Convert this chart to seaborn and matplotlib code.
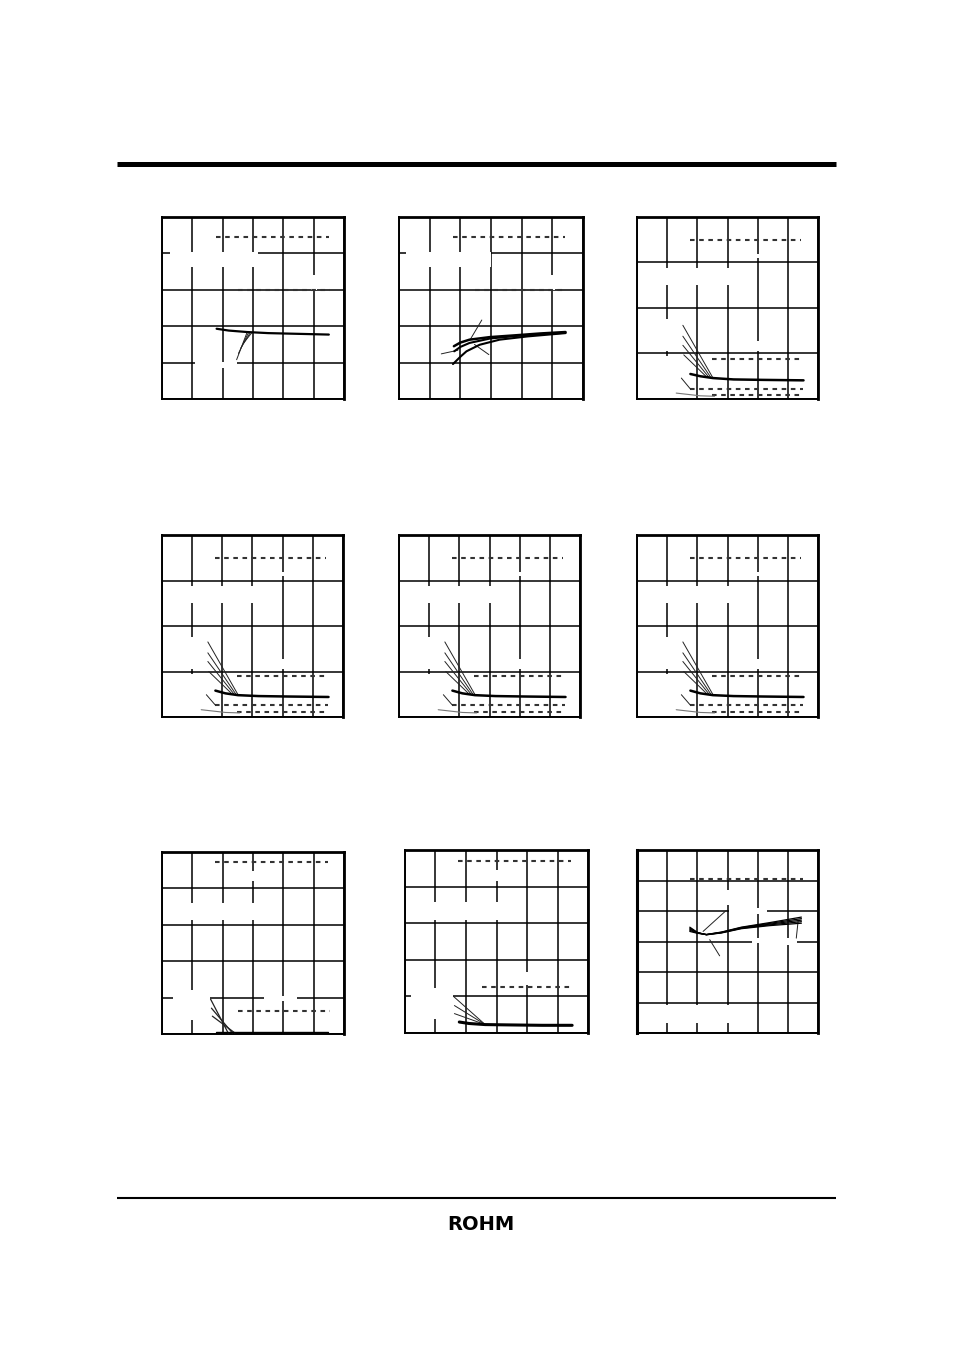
import matplotlib
matplotlib.use("Agg")
import matplotlib.pyplot as plt
import seaborn as sns
import pandas as pd
from matplotlib.patches import Rectangle

sns.set_theme(style="white")
plt.rcParams['font.family'] = ['DejaVu Sans']

W, H = 954, 1351

# ---------------- data (grid units) ----------------
# Panel 1
p1_dash1_x = [1.77, 5.5];  p1_dash1_y = [4.46, 4.46]
p1_dash2_x = [2.52, 5.55]; p1_dash2_y = [3.0, 3.0]
p1_curve_x = [1.8, 2.2, 2.8, 3.5, 4.5, 5.5]
p1_curve_y = [1.93, 1.88, 1.84, 1.81, 1.79, 1.77]
p1_lead_x0 = [2.95, 2.90, 2.85, 2.80]
p1_lead_y0 = [1.81, 1.81, 1.82, 1.82]
p1_lead_x1 = [2.70, 2.60, 2.52, 2.46]
p1_lead_y1 = [1.55, 1.40, 1.25, 1.08]

# Panel 2
p2_dash1_x = [1.76, 5.4];  p2_dash1_y = [4.46, 4.46]
p2_dash2_x = [2.49, 5.46]; p2_dash2_y = [2.99, 2.99]
p2_a_x = [1.79, 2.0, 2.3, 2.96, 3.8, 4.6, 5.43]
p2_a_y = [1.45, 1.55, 1.63, 1.70, 1.75, 1.80, 1.84]
p2_b_x = [1.80, 2.0, 2.3, 2.96, 3.8, 4.6, 5.43]
p2_b_y = [1.31, 1.43, 1.54, 1.66, 1.73, 1.78, 1.82]
p2_c_x = [1.76, 2.0, 2.2, 2.63, 3.28, 4.2, 5.43]
p2_c_y = [0.96, 1.16, 1.31, 1.49, 1.63, 1.72, 1.81]
p2_lead_x0 = [2.70, 1.38, 2.93]
p2_lead_y0 = [2.17, 1.24, 1.22]
p2_lead_x1 = [2.32, 1.92, 2.46]
p2_lead_y1 = [1.63, 1.34, 1.50]

# Panel 3 and row 2 panels (same family of curves)
p3_dash_x = [[1.77, 5.45], [2.49, 5.5], [1.75, 5.5], [2.49, 5.5]]
p3_dash_y = [[3.49, 3.49], [0.87, 0.87], [0.22, 0.22], [0.08, 0.08]]
p3_curve_x = [1.77, 2.1, 2.52, 3.2, 4.2, 5.52]
p3_curve_y = [0.55, 0.50, 0.46, 0.43, 0.42, 0.41]
p3_lead_x0 = [1.52, 1.52, 1.52, 1.55]
p3_lead_y0 = [1.62, 1.38, 1.18, 0.97]
p3_lead_x1 = [2.52, 2.45, 2.38, 2.30]
p3_lead_y1 = [0.46, 0.47, 0.48, 0.49]
p3_tick_x = [1.47, 1.77]; p3_tick_y = [0.46, 0.22]
p3_thin_x = [1.30, 1.7, 2.1, 2.57]
p3_thin_y = [0.13, 0.10, 0.07, 0.06]

p4_dash_y = [[3.50, 3.50], [0.90, 0.90], [0.26, 0.26], [0.12, 0.12]]
p4_curve_y = [0.58, 0.52, 0.48, 0.46, 0.45, 0.44]
p4_lead_y0 = [1.65, 1.41, 1.22, 1.00]

# Panel 7
p7_dash_x = [[1.76, 5.47], [2.5, 5.53]]
p7_dash_y = [[4.72, 4.72], [0.64, 0.64]]
p7_line_x = [1.77, 5.47]; p7_line_y = [0.05, 0.05]
p7_lead_x0 = [1.60, 1.63, 1.66]
p7_lead_y0 = [0.96, 0.71, 0.49]
p7_lead_x1 = [2.18, 2.32, 2.40]
p7_lead_y1 = [0.03, 0.03, 0.03]

# Panel 8
p8_dash_x = [[1.75, 5.45], [2.52, 5.48]]
p8_dash_y = [[4.70, 4.70], [1.25, 1.25]]
p8_curve_x = [1.78, 2.1, 2.63, 3.5, 4.5, 5.48]
p8_curve_y = [0.30, 0.26, 0.23, 0.22, 0.21, 0.21]
p8_lead_x0 = [1.59, 1.62, 1.62]
p8_lead_y0 = [1.00, 0.75, 0.53]
p8_lead_x1 = [2.63, 2.63, 2.63]
p8_lead_y1 = [0.23, 0.23, 0.23]

# Panel 9
p9_dash_x = [1.77, 5.5]; p9_dash_y = [5.04, 5.04]
p9_curve_x = [1.75, 2.0, 2.3, 2.8, 3.46, 4.4, 5.45]
p9_curve_y0 = [3.47, 3.30, 3.22, 3.28, 3.42, 3.52, 3.60]
p9_curve_y1 = [3.33, 3.27, 3.23, 3.31, 3.47, 3.62, 3.80]
p9_lead_x0 = [2.96, 2.74, 5.28]
p9_lead_y0 = [4.02, 2.53, 3.11]
p9_lead_x1 = [2.19, 2.41, 5.34]
p9_lead_y1 = [3.33, 3.06, 3.66]

# white label blanks (grid units): x0, y0, x1, y1
p1_blank = [(0.25, 3.64, 3.18, 4.03), (1.08, 0.85, 2.46, 1.03), (4.9, 3.0, 5.1, 3.42)]
p2_blank = [(0.22, 3.64, 3.0, 4.03), (4.9, 3.0, 5.1, 3.42)]
p3_blank = [(0.8, 2.5, 3.2, 2.87), (0.7, 1.05, 1.4, 1.76), (0.8, 0.02, 1.2, 0.95),
            (3.8, 1.05, 4.2, 1.27), (3.8, 3.1, 4.2, 3.18)]
p7_blank = [(0.36, 0.9, 1.58, 1.05), (3.35, 0.9, 4.46, 1.05), (0.8, 3.14, 3.2, 3.6),
            (0.8, 0.39, 1.2, 1.22), (2.8, 4.19, 3.2, 4.47)]
p8_blank = [(0.8, 3.09, 3.2, 3.59), (0.2, 0.9, 1.58, 1.05), (0.8, 0.38, 1.2, 1.23),
            (3.8, 1.32, 4.2, 1.68), (2.8, 4.14, 3.2, 4.45)]
p9_blank = [(0.8, 0.33, 3.2, 0.93), (3.8, 2.95, 4.2, 3.1), (4.05, 2.9, 5.3, 3.1),
            (3.05, 3.9, 4.3, 4.1), (2.9, 4.2, 3.1, 4.7)]

# ---------------- drawing ----------------
fig = plt.figure(figsize=(W / 100, H / 100), dpi=100)


def add_panel(left, top, width, height, ncols, nrows):
    ax = fig.add_axes([left / W, 1 - (top + height) / H, width / W, height / H])
    ax.set_xlim(0, ncols)
    ax.set_ylim(0, nrows)
    ax.set_xticks(range(ncols + 1))
    ax.set_yticks(range(nrows + 1))
    ax.set_xticklabels([])
    ax.set_yticklabels([])
    ax.tick_params(length=0)
    ax.grid(True, color="black", linewidth=1.1, zorder=1)
    ax.set_axisbelow(True)
    for s in ax.spines.values():
        s.set_visible(True)
        s.set_color("black")
        s.set_linewidth(1.4)
    ax.spines["top"].set_linewidth(2.0)
    ax.spines["right"].set_linewidth(2.0)
    ax.set_xlabel("")
    ax.set_ylabel("")
    return ax


def blanks(ax, rects):
    for x0, y0, x1, y1 in rects:
        ax.add_patch(Rectangle((x0, y0), x1 - x0, y1 - y0, facecolor="white",
                               edgecolor="none", zorder=2))


def line(ax, xs, ys, lw=1.8, color="black", ls="-", z=4):
    df = pd.DataFrame({"x": xs, "y": ys})
    sns.lineplot(data=df, x="x", y="y", ax=ax, color=color, linewidth=lw,
                 linestyle=ls, sort=False, estimator=None, zorder=z)
    ax.set_xlabel("")
    ax.set_ylabel("")


DASH = (0, (2.2, 2.2))


def dashed(ax, xs, ys):
    line(ax, xs, ys, lw=1.5, color="#333333", ls=DASH, z=3)


def leaders(ax, x0, y0, x1, y1, lw=0.7):
    for a, b, c, d in zip(x0, y0, x1, y1):
        line(ax, [a, c], [b, d], lw=lw, color="#222222", z=3)


# Panel 1
ax = add_panel(162, 217, 182, 182, 6, 5)
blanks(ax, p1_blank)
dashed(ax, p1_dash1_x, p1_dash1_y)
dashed(ax, p1_dash2_x, p1_dash2_y)
leaders(ax, p1_lead_x0, p1_lead_y0, p1_lead_x1, p1_lead_y1)
line(ax, p1_curve_x, p1_curve_y, lw=1.6)

# Panel 2
ax = add_panel(399, 217, 184, 182, 6, 5)
blanks(ax, p2_blank)
dashed(ax, p2_dash1_x, p2_dash1_y)
dashed(ax, p2_dash2_x, p2_dash2_y)
leaders(ax, p2_lead_x0, p2_lead_y0, p2_lead_x1, p2_lead_y1)
line(ax, p2_a_x, p2_a_y, lw=1.8)
line(ax, p2_b_x, p2_b_y, lw=1.5)
line(ax, p2_c_x, p2_c_y, lw=1.5)


def family_panel(left, top, dash_y, curve_y, lead_y0, dy):
    ax = add_panel(left, top, 181, 182, 6, 4)
    blanks(ax, p3_blank)
    for xs, ys in zip(p3_dash_x, dash_y):
        dashed(ax, xs, ys)
    lead_y1 = [v + dy for v in p3_lead_y1]
    leaders(ax, p3_lead_x0, lead_y0, p3_lead_x1, lead_y1)
    tick_y = [p3_tick_y[0] + dy, dash_y[2][0]]
    line(ax, p3_tick_x, tick_y, lw=0.7, color="#222222")
    line(ax, p3_thin_x, [v + dy for v in p3_thin_y], lw=0.8, color="#777777")
    line(ax, p3_curve_x, curve_y, lw=1.8)
    return ax


family_panel(637, 217, p3_dash_y, p3_curve_y, p3_lead_y0, 0.0)
family_panel(162, 535, p4_dash_y, p4_curve_y, p4_lead_y0, 0.03)
family_panel(399, 535, p4_dash_y, p4_curve_y, p4_lead_y0, 0.03)
family_panel(637, 535, p4_dash_y, p4_curve_y, p4_lead_y0, 0.03)

# Panel 7
ax = add_panel(162, 852, 182, 182, 6, 5)
blanks(ax, p7_blank)
for xs, ys in zip(p7_dash_x, p7_dash_y):
    dashed(ax, xs, ys)
leaders(ax, p7_lead_x0, p7_lead_y0, p7_lead_x1, p7_lead_y1, lw=0.9)
line(ax, p7_line_x, p7_line_y, lw=1.0)

# Panel 8
ax = add_panel(405, 850, 183, 183, 6, 5)
blanks(ax, p8_blank)
for xs, ys in zip(p8_dash_x, p8_dash_y):
    dashed(ax, xs, ys)
leaders(ax, p8_lead_x0, p8_lead_y0, p8_lead_x1, p8_lead_y1)
line(ax, p8_curve_x, p8_curve_y, lw=2.2)

# Panel 9
ax = add_panel(637, 850, 181, 183, 6, 6)
ax.spines["left"].set_linewidth(2.2)
blanks(ax, p9_blank)
dashed(ax, p9_dash_x, p9_dash_y)
leaders(ax, p9_lead_x0, p9_lead_y0, p9_lead_x1, p9_lead_y1)
n = 5
for i in range(n):
    ys = [a + (b - a) * i / (n - 1) for a, b in zip(p9_curve_y0, p9_curve_y1)]
    line(ax, p9_curve_x, ys, lw=0.9)

# Header / footer rules and logo
fig.add_artist(plt.Line2D([117 / W, 836 / W], [1 - 164 / H, 1 - 164 / H],
                          color="black", linewidth=3.6, solid_capstyle="butt"))
fig.add_artist(plt.Line2D([117 / W, 836 / W], [1 - 1198 / H, 1 - 1198 / H],
                          color="black", linewidth=1.5, solid_capstyle="butt"))
fig.text(481 / W, 1 - 1224 / H, "ROHM", ha="center", va="center",
         fontsize=14, fontweight="heavy", family="DejaVu Sans",
         color="black")

fig.savefig("out.png", dpi=100, facecolor="white")
